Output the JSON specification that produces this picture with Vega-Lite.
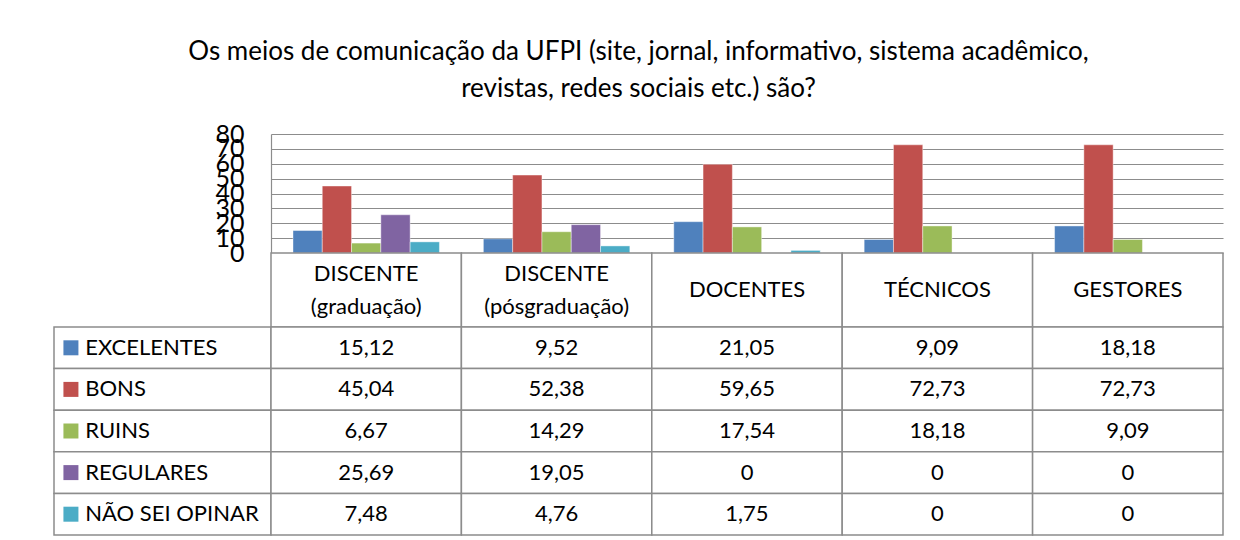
{
  "$schema": "https://vega.github.io/schema/vega-lite/v6.json",
  "padding": {"left": 53, "right": 18, "top": 39, "bottom": 4},
  "background": "white",
  "title": {
    "text": ["Os meios de comunicação da UFPI (site, jornal, informativo, sistema acadêmico,", "revistas, redes sociais etc.) são?"],
    "font": "Lato", "fontSize": 26, "fontWeight": "normal", "lineHeight": 36.7, "color": "black", "anchor": "middle", "offset": 20
  },
  "datasets": {
    "d": [
      {"categoria": "DISCENTE\n(graduação)", "serie": "EXCELENTES", "valor": 15.12},
      {"categoria": "DISCENTE\n(graduação)", "serie": "BONS", "valor": 45.04},
      {"categoria": "DISCENTE\n(graduação)", "serie": "RUINS", "valor": 6.67},
      {"categoria": "DISCENTE\n(graduação)", "serie": "REGULARES", "valor": 25.69},
      {"categoria": "DISCENTE\n(graduação)", "serie": "NÃO SEI OPINAR", "valor": 7.48},
      {"categoria": "DISCENTE\n(pósgraduação)", "serie": "EXCELENTES", "valor": 9.52},
      {"categoria": "DISCENTE\n(pósgraduação)", "serie": "BONS", "valor": 52.38},
      {"categoria": "DISCENTE\n(pósgraduação)", "serie": "RUINS", "valor": 14.29},
      {"categoria": "DISCENTE\n(pósgraduação)", "serie": "REGULARES", "valor": 19.05},
      {"categoria": "DISCENTE\n(pósgraduação)", "serie": "NÃO SEI OPINAR", "valor": 4.76},
      {"categoria": "DOCENTES", "serie": "EXCELENTES", "valor": 21.05},
      {"categoria": "DOCENTES", "serie": "BONS", "valor": 59.65},
      {"categoria": "DOCENTES", "serie": "RUINS", "valor": 17.54},
      {"categoria": "DOCENTES", "serie": "REGULARES", "valor": 0},
      {"categoria": "DOCENTES", "serie": "NÃO SEI OPINAR", "valor": 1.75},
      {"categoria": "TÉCNICOS", "serie": "EXCELENTES", "valor": 9.09},
      {"categoria": "TÉCNICOS", "serie": "BONS", "valor": 72.73},
      {"categoria": "TÉCNICOS", "serie": "RUINS", "valor": 18.18},
      {"categoria": "TÉCNICOS", "serie": "REGULARES", "valor": 0},
      {"categoria": "TÉCNICOS", "serie": "NÃO SEI OPINAR", "valor": 0},
      {"categoria": "GESTORES", "serie": "EXCELENTES", "valor": 18.18},
      {"categoria": "GESTORES", "serie": "BONS", "valor": 72.73},
      {"categoria": "GESTORES", "serie": "RUINS", "valor": 9.09},
      {"categoria": "GESTORES", "serie": "REGULARES", "valor": 0},
      {"categoria": "GESTORES", "serie": "NÃO SEI OPINAR", "valor": 0}
    ]
  },
  "columns": 2,
  "spacing": 0,
  "bounds": "flush",
  "resolve": {"scale": {"x": "independent", "y": "independent", "color": "shared"}},
  "concat": [
    {
      "width": 217, "height": 119,
      "data": {"values": [{"a": 1}]},
      "mark": {"type": "point", "opacity": 0},
      "encoding": {}
    },
    {
      "width": 952, "height": 119,
      "data": {"name": "d"},
      "mark": {"type": "bar", "stroke": "white", "strokeWidth": 0.6, "strokeOpacity": 0.7},
      "encoding": {
        "x": {"field": "categoria", "type": "nominal", "sort": ["DISCENTE\n(graduação)", "DISCENTE\n(pósgraduação)", "DOCENTES", "TÉCNICOS", "GESTORES"], "scale": {"paddingInner": 0, "paddingOuter": 0}, "axis": null},
        "xOffset": {"field": "serie", "type": "nominal", "sort": ["EXCELENTES", "BONS", "RUINS", "REGULARES", "NÃO SEI OPINAR"], "scale": {"paddingInner": 0, "paddingOuter": 0.75}},
        "y": {"field": "valor", "type": "quantitative", "scale": {"domain": [0, 80], "nice": false},
          "axis": {"values": [0, 10, 20, 30, 40, 50, 60, 70, 80], "title": null, "grid": true, "gridColor": "#8c8c8c", "gridWidth": 1.2, "domain": true, "domainColor": "#8c8c8c", "domainWidth": 1.2, "ticks": false, "labelPadding": 27, "labelFont": "Lato", "labelFontSize": 25, "labelColor": "black", "labelOverlap": false, "labelBound": false, "labelFlush": false}},
        "color": {"field": "serie", "type": "nominal", "legend": null,
          "scale": {"domain": ["EXCELENTES", "BONS", "RUINS", "REGULARES", "NÃO SEI OPINAR"], "range": ["#4F81BD", "#C0504D", "#9BBB59", "#8064A2", "#4BACC6"]}}
      }
    },
    {
      "width": 217, "height": 74,
      "data": {"values": [{"a": 1}]},
      "mark": {"type": "point", "opacity": 0},
      "encoding": {}
    },
    {
      "width": 952, "height": 74,
      "data": {"name": "d"},
      "transform": [{"filter": "datum.serie === 'BONS'"}],
      "encoding": {
        "x": {"field": "categoria", "type": "nominal", "sort": ["DISCENTE\n(graduação)", "DISCENTE\n(pósgraduação)", "DOCENTES", "TÉCNICOS", "GESTORES"], "scale": {"paddingInner": 0, "paddingOuter": 0}, "axis": null}
      },
      "layer": [
        {"mark": {"type": "rect", "fill": "white", "stroke": "#8c8c8c", "strokeWidth": 1.5}},
        {"transform": [{"filter": "indexof(datum.categoria, '(') < 0"}],
         "mark": {"type": "text", "font": "Lato", "fontSize": 22, "color": "black", "baseline": "middle", "align": "center"},
         "encoding": {"text": {"field": "categoria", "type": "nominal"}}},
        {"transform": [{"filter": "indexof(datum.categoria, '(') >= 0"}],
         "mark": {"type": "text", "font": "Lato", "fontSize": 22, "color": "black", "lineBreak": "\n", "lineHeight": 33, "baseline": "middle", "align": "center", "dy": -16.5},
         "encoding": {"text": {"field": "categoria", "type": "nominal"}}}
      ]
    },
    {
      "width": 217, "height": 208,
      "data": {"name": "d"},
      "transform": [{"filter": "datum.categoria === 'GESTORES'"}],
      "encoding": {
        "y": {"field": "serie", "type": "nominal", "sort": ["EXCELENTES", "BONS", "RUINS", "REGULARES", "NÃO SEI OPINAR"], "scale": {"paddingInner": 0, "paddingOuter": 0}, "axis": null}
      },
      "layer": [
        {"mark": {"type": "rect", "fill": "white", "stroke": "#8c8c8c", "strokeWidth": 1.5},
         "encoding": {
           "x": {"datum": 0, "type": "quantitative", "scale": {"domain": [0, 1], "nice": false}, "axis": null},
           "x2": {"datum": 1}
         }},
        {"mark": {"type": "square", "size": 225, "opacity": 1},
         "encoding": {
           "x": {"datum": 0.078, "type": "quantitative"},
           "color": {"field": "serie", "type": "nominal", "legend": null,
             "scale": {"domain": ["EXCELENTES", "BONS", "RUINS", "REGULARES", "NÃO SEI OPINAR"], "range": ["#4F81BD", "#C0504D", "#9BBB59", "#8064A2", "#4BACC6"]}}
         }},
        {"mark": {"type": "text", "font": "Lato", "fontSize": 22, "color": "black", "align": "left", "baseline": "middle"},
         "encoding": {
           "x": {"datum": 0.144, "type": "quantitative"},
           "text": {"field": "serie", "type": "nominal"}
         }}
      ]
    },
    {
      "width": 952, "height": 208,
      "data": {"name": "d"},
      "encoding": {
        "x": {"field": "categoria", "type": "nominal", "sort": ["DISCENTE\n(graduação)", "DISCENTE\n(pósgraduação)", "DOCENTES", "TÉCNICOS", "GESTORES"], "scale": {"paddingInner": 0, "paddingOuter": 0}, "axis": null},
        "y": {"field": "serie", "type": "nominal", "sort": ["EXCELENTES", "BONS", "RUINS", "REGULARES", "NÃO SEI OPINAR"], "scale": {"paddingInner": 0, "paddingOuter": 0}, "axis": null}
      },
      "layer": [
        {"mark": {"type": "rect", "fill": "white", "stroke": "#8c8c8c", "strokeWidth": 1.5}},
        {"mark": {"type": "text", "font": "Lato", "fontSize": 22, "color": "black", "baseline": "middle", "align": "center"},
         "encoding": {"text": {"field": "valor", "type": "quantitative", "format": ".2~f"}}}
      ]
    }
  ],
  "config": {
    "view": {"stroke": null},
    "locale": {"number": {"decimal": ",", "thousands": ".", "grouping": [3], "currency": ["R$", ""]}}
  }
}
